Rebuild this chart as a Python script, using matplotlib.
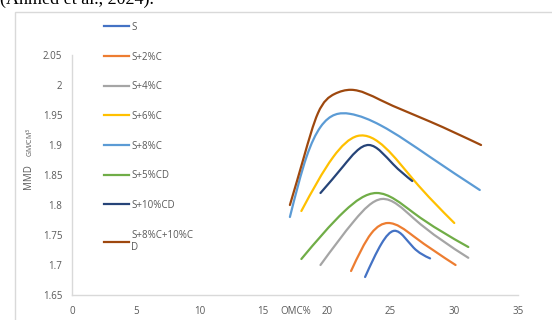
"""
MMD vs OMC compaction curves
Excel-style smoothed lines
"""
import numpy as np
import matplotlib
matplotlib.use('Agg')
import matplotlib.pyplot as plt
from matplotlib.path import Path
from matplotlib.patches import PathPatch, Rectangle
from matplotlib.lines import Line2D

plt.rcParams['font.family'] = ['Open Sans', 'DejaVu Sans']

# data
labels = ['S', 'S+2%C', 'S+4%C', 'S+6%C', 'S+8%C', 'S+5%CD', 'S+10%CD', 'S+8%C+10%C\nD']
colors = ['#4472C4', '#ED7D31', '#A5A5A5', '#FFC000', '#5B9BD5', '#70AD47', '#264478', '#9E480E']

omc_s = [23.0, 24.3, 25.3, 26.8, 28.1]
mmd_s = [1.68, 1.736, 1.757, 1.729, 1.711]
omc_2c = [21.9, 23.5, 24.8, 26.8, 30.1]
mmd_2c = [1.69, 1.753, 1.77, 1.748, 1.70]
omc_4c = [19.5, 22.2, 24.3, 26.8, 31.1]
mmd_4c = [1.70, 1.775, 1.81, 1.778, 1.712]
omc_6c = [18.0, 20.5, 22.4, 26.8, 30.0]
mmd_6c = [1.79, 1.88, 1.915, 1.842, 1.77]
omc_8c = [17.1, 18.4, 19.5, 21.8, 24.2, 28.1, 32.0]
mmd_8c = [1.78, 1.88, 1.93, 1.952, 1.933, 1.88, 1.825]
omc_5cd = [18.0, 21.4, 23.9, 26.8, 31.1]
mmd_5cd = [1.71, 1.79, 1.82, 1.787, 1.73]
omc_10cd = [19.5, 21.3, 23.3, 25.2, 26.7]
mmd_10cd = [1.82, 1.865, 1.90, 1.868, 1.84]
omc_mix = [17.1, 18.2, 19.3, 20.6, 21.9, 24.2, 28.1, 32.1]
mmd_mix = [1.80, 1.88, 1.953, 1.985, 1.992, 1.975, 1.939, 1.90]

series_x = [omc_s, omc_2c, omc_4c, omc_6c, omc_8c, omc_5cd, omc_10cd, omc_mix]
series_y = [mmd_s, mmd_2c, mmd_4c, mmd_6c, mmd_8c, mmd_5cd, mmd_10cd, mmd_mix]

xticks = [0, 5, 10, 15, 20, 25, 30, 35]
yticks = [1.65, 1.7, 1.75, 1.8, 1.85, 1.9, 1.95, 2.0, 2.05]
ytick_labels = ['1.65', '1.7', '1.75', '1.8', '1.85', '1.9', '1.95', '2', '2.05']

GRAY_TXT = '#595959'


def smooth_path(xs, ys):
    """Bezier path through the points, natural cubic spline slopes"""
    x = np.asarray(xs, float)
    y = np.asarray(ys, float)
    n = len(x)
    h = np.diff(x)
    d = np.diff(y) / h
    A = np.zeros((n, n))
    b = np.zeros(n)
    A[0, 0], A[0, 1], b[0] = 2, 1, 3 * d[0]
    A[-1, -2], A[-1, -1], b[-1] = 1, 2, 3 * d[-1]
    for i in range(1, n - 1):
        A[i, i - 1] = h[i]
        A[i, i] = 2 * (h[i - 1] + h[i])
        A[i, i + 1] = h[i - 1]
        b[i] = 3 * (h[i] * d[i - 1] + h[i - 1] * d[i])
    m = np.linalg.solve(A, b)
    verts = [(x[0], y[0])]
    codes = [Path.MOVETO]
    for i in range(n - 1):
        verts += [(x[i] + h[i] / 3, y[i] + m[i] * h[i] / 3),
                  (x[i + 1] - h[i] / 3, y[i + 1] - m[i + 1] * h[i] / 3),
                  (x[i + 1], y[i + 1])]
        codes += [Path.CURVE4] * 3
    return Path(verts, codes)


fig = plt.figure(figsize=(5.52, 3.2), dpi=100)
ax = fig.add_axes([72 / 552, 1 - 295 / 320, (518 - 72) / 552, (295 - 55) / 320])

for xs, ys, c in zip(series_x, series_y, colors):
    ax.add_patch(PathPatch(smooth_path(xs, ys), facecolor='none', edgecolor=c,
                           lw=1.6, capstyle='round'))

ax.set_xlim(0, 35)
ax.set_ylim(1.65, 2.05)
ax.set_xticks(xticks)
ax.set_xticklabels([str(t) for t in xticks])
ax.set_yticks(yticks)
ax.set_yticklabels(ytick_labels)
ax.tick_params(length=0, labelsize=7, colors=GRAY_TXT, pad=8)
ax.tick_params(axis='y', pad=7)
for side in ['top', 'right']:
    ax.spines[side].set_visible(False)
for side in ['left', 'bottom']:
    ax.spines[side].set_color('#d9d9d9')
    ax.spines[side].set_linewidth(1.0)

# legend
handles = [Line2D([], [], color=c, lw=1.6) for c in colors]
leg = ax.legend(handles, labels, loc='upper left', bbox_to_anchor=(100 / 552, 1 - 18 / 320),
                bbox_transform=fig.transFigure, frameon=False, fontsize=7,
                handlelength=2.6, handletextpad=0.2, labelspacing=1.92, borderaxespad=0)
for t in leg.get_texts():
    t.set_color(GRAY_TXT)

# axis titles
fig.text(296 / 552, 1 - 312 / 320, 'OMC%', fontsize=7, color=GRAY_TXT, ha='center', va='center')
fig.text(29 / 552, 1 - 177 / 320, 'MMD', fontsize=7, color=GRAY_TXT, rotation=90,
         ha='center', va='center')
fig.text(30 / 552, 1 - 142 / 320, 'GM/CM$^3$', fontsize=5, color=GRAY_TXT, rotation=90,
         ha='center', va='center')

# chart border
fig.patches.append(Rectangle((15 / 552, -0.5), 2.0, 0.5 + 1 - 12 / 320, transform=fig.transFigure,
                             facecolor='none', edgecolor='#d9d9d9', lw=1.0))

# cut-off caption from the page
fig.text(0, 1 - 4 / 320, '(Ahmed et al., 2024).', fontsize=13, family='Liberation Serif',
         color='black', ha='left', va='baseline')

fig.savefig('out.png', dpi=100)
